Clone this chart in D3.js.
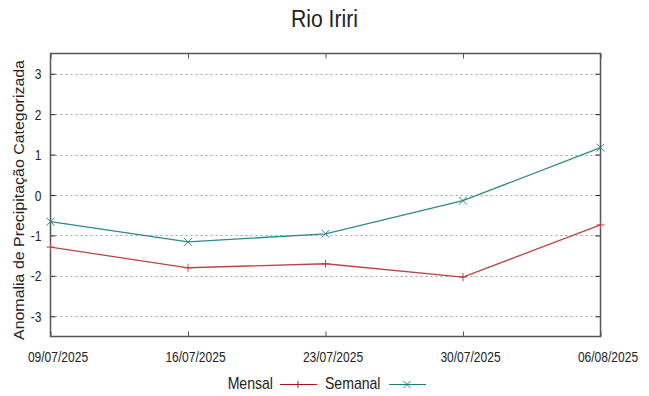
<!DOCTYPE html>
<meta charset='utf-8'>
<style>
body { margin: 0; background: #fff; }
text { font-family: 'Liberation Sans', Arial, sans-serif; fill: #222; }
.grid line { stroke: #a0a0a0; stroke-dasharray: 2,3; stroke-width: 1; }
.frame { fill: none; stroke: #555; stroke-width: 1.5; }
</style>
<svg width='649' height='396'></svg>
<script src='https://d3js.org/d3.v7.min.js'></script>
<script>

var dates = ['09/07/2025', '16/07/2025', '23/07/2025', '30/07/2025', '06/08/2025'];
var mensal = [-1.29, -1.8, -1.7, -2.03, -0.74];
var semanal = [-0.66, -1.16, -0.96, -0.14, 1.17];
var yTicks = [-3, -2, -1, 0, 1, 2, 3];

var svg = d3.select('svg'),
    plotLeft = 50.5, plotRight = 600.5, plotTop = 53.5, plotBottom = 336.5;

var parse = d3.timeParse('%d/%m/%Y');
var dateVals = dates.map(parse);

var x = d3.scaleTime().domain(d3.extent(dateVals)).range([plotLeft, plotRight]);
var y = d3.scaleLinear().domain([-3.5, 3.5]).range([plotBottom, plotTop]);

// condensed text: a group translated to the anchor, squeezed horizontally
function narrowText(parent, tx, ty, str, size, sx, anchor) {
  var g = parent.append('g').attr('transform', 'translate(' + tx + ',' + ty + ') scale(' + sx + ',1)');
  g.append('text').attr('text-anchor', anchor).style('font-size', size + 'px').text(str);
  return g;
}

// horizontal dotted grid
svg.append('g').attr('class', 'grid')
  .selectAll('line').data(yTicks).enter().append('line')
    .attr('x1', plotLeft).attr('x2', plotRight)
    .attr('y1', d => Math.round(y(d)) + 0.5).attr('y2', d => Math.round(y(d)) + 0.5);

// axes with inward ticks (labels drawn separately, condensed)
var gy = svg.append('g').attr('transform', 'translate(' + plotLeft + ',0)')
  .call(d3.axisLeft(y).tickValues(yTicks).tickSize(-5).tickFormat(''));
gy.select('.domain').remove();
gy.selectAll('line').attr('stroke', '#222');

var gyr = svg.append('g').attr('transform', 'translate(' + plotRight + ',0)')
  .call(d3.axisRight(y).tickValues(yTicks).tickSize(-5).tickFormat(''));
gyr.select('.domain').remove();
gyr.selectAll('line').attr('stroke', '#222');

var gx = svg.append('g').attr('transform', 'translate(0,' + plotBottom + ')')
  .call(d3.axisBottom(x).tickValues(dateVals).tickSize(-5).tickFormat(''));
gx.select('.domain').remove();
gx.selectAll('line').attr('stroke', '#555');

var gxt = svg.append('g').attr('transform', 'translate(0,' + plotTop + ')')
  .call(d3.axisTop(x).tickValues(dateVals).tickSize(-5).tickFormat(''));
gxt.select('.domain').remove();
gxt.selectAll('line').attr('stroke', '#555');

var labels = svg.append('g');
yTicks.forEach(function(t) {
  narrowText(labels, 41.5, y(t) + 5.5, String(t).replace('-', '-'), 15, 0.8, 'end');
});
dateVals.forEach(function(d, i) {
  narrowText(labels, x(d) + 7.5, 362, dates[i], 14, 0.86, 'middle');
});

svg.append('rect').attr('class', 'frame')
  .attr('x', plotLeft).attr('y', plotTop).attr('width', plotRight - plotLeft).attr('height', plotBottom - plotTop);

// series
var series = [
  { name: 'Mensal', values: mensal, color: '#bb4545', mark: 'plus' },
  { name: 'Semanal', values: semanal, color: '#2e8989', mark: 'cross' }
];

var line = d3.line().x((d, i) => x(dateVals[i])).y(d => y(d));

function marker(g, cx, cy, type, color, s) {
  if (type === 'plus') {
    g.append('path').attr('d', 'M' + (cx - s) + ',' + cy + 'H' + (cx + s) + 'M' + cx + ',' + (cy - s) + 'V' + (cy + s))
      .attr('stroke', color).attr('stroke-width', 1).attr('fill', 'none');
  } else {
    g.append('path').attr('d', 'M' + (cx - s) + ',' + (cy - s) + 'L' + (cx + s) + ',' + (cy + s) + 'M' + (cx - s) + ',' + (cy + s) + 'L' + (cx + s) + ',' + (cy - s))
      .attr('stroke', color).attr('stroke-width', 1).attr('fill', 'none');
  }
}

series.forEach(function(s) {
  var g = svg.append('g');
  g.append('path').datum(s.values)
    .attr('d', line)
    .attr('fill', 'none')
    .attr('stroke', s.color)
    .attr('stroke-width', 1.3);
  s.values.forEach(function(v, i) { marker(g, x(dateVals[i]), y(v), s.mark, s.color, 4); });
});

// title
svg.append('text').attr('x', 291).attr('y', 27)
  .attr('textLength', 67).attr('lengthAdjust', 'spacingAndGlyphs')
  .style('font-size', '23px').text('Rio Iriri');

// y label
svg.append('text').attr('transform', 'translate(24,200) rotate(-90)')
  .attr('x', -140).attr('textLength', 280).attr('lengthAdjust', 'spacingAndGlyphs')
  .style('font-size', '15px')
  .text('Anomalia de Precipitação Categorizada');

// legend
var legend = svg.append('g');
var legendItems = [
  { name: 'Mensal', color: '#a51818', mark: 'plus', tx: 273, lx: 280 },
  { name: 'Semanal', color: '#1c7b7b', mark: 'cross', tx: 380.5, lx: 389 }
];
legendItems.forEach(function(it) {
  narrowText(legend, it.tx, 388.5, it.name, 16, 0.88, 'end');
  legend.append('line').attr('x1', it.lx).attr('x2', it.lx + 37).attr('y1', 384.5).attr('y2', 384.5)
    .attr('stroke', it.color).attr('stroke-width', 1.2);
  marker(legend, it.lx + 18, 384.5, it.mark, it.color, 3.5);
});

</script>
